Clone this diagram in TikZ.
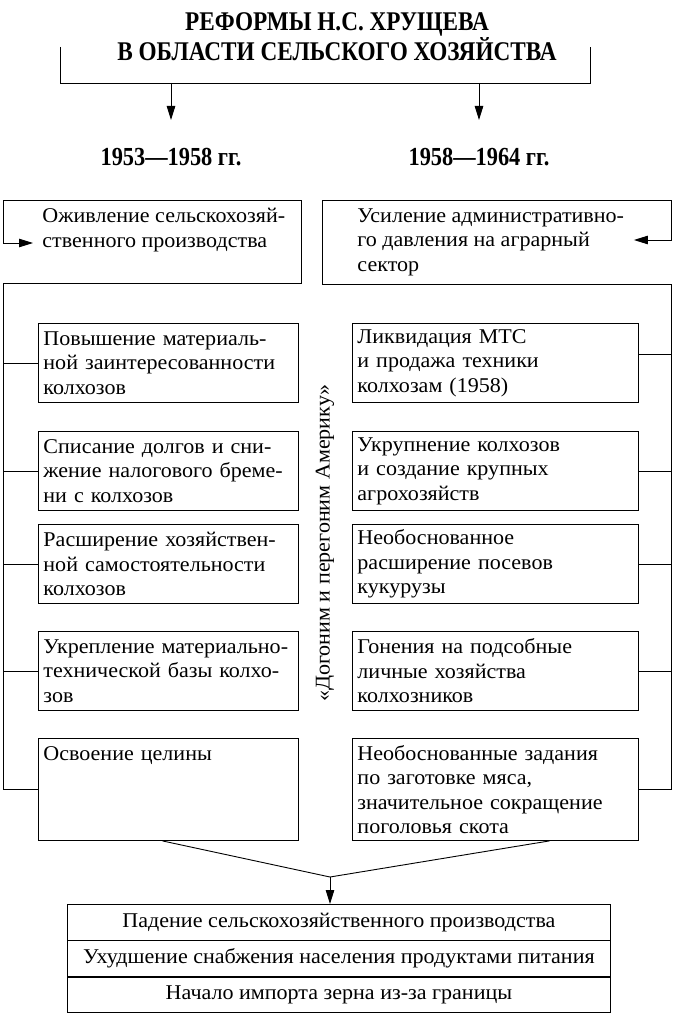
\documentclass[tikz,border=0pt]{standalone}
\usepackage{fontspec}
\setmainfont{Liberation Serif}
\newfontfamily\headfont[FakeStretch=0.86]{Liberation Serif}
\newfontfamily\bodyfamily[FakeStretch=1.05]{Liberation Serif}
\usetikzlibrary{arrows.meta,positioning}

\newcommand{\bodyfont}{\bodyfamily\fontsize{21}{24.5}\selectfont}

\begin{document}
\begin{tikzpicture}[x=1pt,y=-1pt,line width=0.9pt,
  arr/.style={-{Triangle[length=14pt,width=8.5pt]}},
  box/.style={draw, anchor=north west, align=left, inner xsep=5pt, inner ysep=3pt, font=\bodyfont},
  lbox/.style={box, text width=250pt, minimum height=79pt},
  rbox/.style={box, text width=276pt, minimum height=79pt},
  frame/.style={anchor=north west, inner sep=0pt},
  result/.style={draw, minimum width=543pt, minimum height=35.5pt, inner sep=0pt, font=\bodyfont}]
  \useasboundingbox (0,0) rectangle (678,1024);

  % title and the two periods
  \node[font=\headfont\bfseries\fontsize{27}{26}\selectfont, align=center] (title) at (337,37)
    {РЕФОРМЫ Н.С. ХРУЩЕВА\\В ОБЛАСТИ СЕЛЬСКОГО ХОЗЯЙСТВА};
  \coordinate (bl) at (60,47);
  \coordinate (br) at (590,47);
  \draw (bl) -- ++(0,36) coordinate (bm) -| (br);

  \node[font=\headfont\bfseries\fontsize{26}{26}\selectfont] (p1) at (171,157) {1953—1958 гг.};
  \node[font=\headfont\bfseries\fontsize{26}{26}\selectfont] (p2) at (479,157) {1958—1964 гг.};
  \draw[arr] (bm -| p1) -- ++(0,37);
  \draw[arr] (bm -| p2) -- ++(0,37);

  % top frames
  \node[frame, minimum width=298pt, minimum height=83pt] (f1) at (3,200) {};
  \node[frame, align=left, font=\bodyfont] (revive) at (42,208)
    {Оживление сельскохозяй-\\ственного производства};
  \draw (f1.south west) -- (f1.south east) -- (f1.north east) -- (f1.north west) -- ++(0,43) coordinate (fa);
  \draw[arr, shorten >=9pt] (fa) -- (fa -| revive.west);

  \node[frame, minimum width=349pt, minimum height=84pt] (f2) at (322,200) {};
  \node[frame, align=left, font=\bodyfont] (admin) at (357,208)
    {Усиление административно-\\го давления на аграрный\\сектор};
  \draw (f2.south east) -- (f2.south west) -- (f2.north west) -- (f2.north east) -- ++(0,40) coordinate (fb);
  \draw[arr] (fb) -- ++(-38,0);

  % left column
  \node[lbox] (l1) at (38,323) {Повышение материаль-\\ной заинтересованности\\колхозов};
  \node[lbox] (l2) at (38,431) {Списание долгов и сни-\\жение налогового бреме-\\ни с колхозов};
  \node[lbox] (l3) at (38,524) {Расширение хозяйствен-\\ной самостоятельности\\колхозов};
  \node[lbox] (l4) at (38,631) {Укрепление материально-\\технической базы колхо-\\зов};
  \node[lbox, minimum height=102pt, text depth=72pt] (l5) at (38,738) {Освоение целины};

  % right column
  \node[rbox] (r1) at (352,323) {Ликвидация МТС\\и продажа техники\\колхозам (1958)};
  \node[rbox] (r2) at (352,431) {Укрупнение колхозов\\и создание крупных\\агрохозяйств};
  \node[rbox] (r3) at (352,524) {Необоснованное\\расширение посевов\\кукурузы};
  \node[rbox] (r4) at (352,631) {Гонения на подсобные\\личные хозяйства\\колхозников};
  \node[rbox, minimum height=102pt] (r5) at (352,738) {Необоснованные задания\\по заготовке мяса,\\значительное сокращение\\поголовья скота};

  \node[rotate=90, font=\bodyfont] (slogan) at (325,543) {«Догоним и перегоним Америку»};

  % brackets
  \draw (f1.south west) |- (l5.west);
  \foreach \b in {l1,l2,l3,l4}
    \draw (\b.west -| f1.south west) -- (\b.west);
  \draw (f2.south east) |- (r5.east);
  \foreach \b in {r2,r3,r4}
    \draw (\b.east) -- (\b.east -| f2.south east);
  \draw ([yshift=9pt]r1.east) -- ([yshift=9pt]r1.east -| f2.south east);

  % results
  \node[result, anchor=north west] (res1) at (67,904) {Падение сельскохозяйственного производства};
  \node[result, below=0pt of res1] (res2) {Ухудшение снабжения населения продуктами питания};
  \node[result, below=0pt of res2] (res3) {Начало импорта зерна из-за границы};

  \coordinate (meet) at (330,877);
  \draw ([xshift=-6pt]l5.south) -- (meet) -- ([xshift=54pt]r5.south);
  \draw[arr] (meet) -- (meet |- res1.north);
\end{tikzpicture}
\end{document}
